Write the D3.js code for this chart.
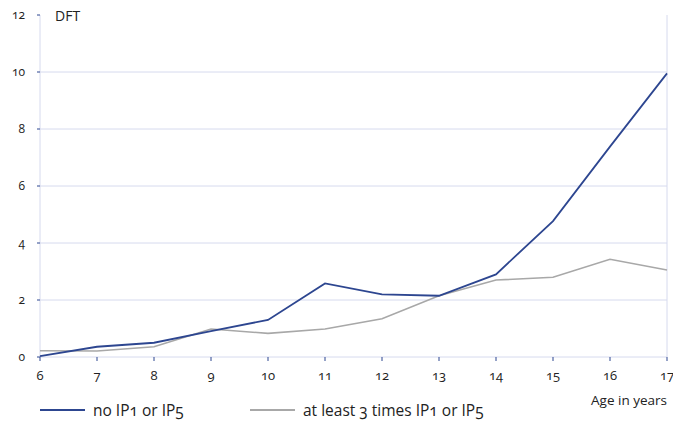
<!DOCTYPE html>
<html><head><meta charset="utf-8">
<script src="https://cdn.jsdelivr.net/npm/d3@7"></script>
<style>
body{margin:0;background:#fff;}
text{font-family:"Open Sans",Lato,sans-serif;fill:#222;font-variant-numeric:oldstyle-nums;}
</style></head><body>
<svg id="c" width="673" height="423"></svg>
<script>
const ages = [6,7,8,9,10,11,12,13,14,15,16,17];
const noIP = [0.03,0.36,0.5,0.91,1.3,2.58,2.2,2.15,2.9,4.77,7.38,9.95];
const atLeast3 = [0.22,0.21,0.36,0.98,0.83,0.98,1.34,2.15,2.7,2.8,3.43,3.05];
const yTicks = [0,2,4,6,8,10,12];
const seriesNames = ["no IP1 or IP5","at least 3 times IP1 or IP5"];
const colors = ["#2d4690","#a8a8a8"];

const svg = d3.select("#c");
const x = d3.scaleLinear().domain([6,17]).range([40,667]);
const y = d3.scaleLinear().domain([0,12]).range([357,15]);
const grid = "#d6daee";

svg.selectAll(".g").data(yTicks.filter(d=>d>0&&d<12)).enter().append("line")
  .attr("x1",40).attr("x2",667).attr("y1",d=>y(d)).attr("y2",d=>y(d))
  .attr("stroke",grid).attr("stroke-width",1);
svg.append("line").attr("x1",667).attr("x2",667).attr("y1",y(12)).attr("y2",y(0)).attr("stroke",grid);
svg.append("line").attr("x1",40).attr("x2",40).attr("y1",y(12)).attr("y2",y(0)).attr("stroke",grid);
svg.append("line").attr("x1",40).attr("x2",667).attr("y1",y(0)).attr("y2",y(0)).attr("stroke",grid);

svg.selectAll(".yt").data(yTicks).enter().append("line")
  .attr("x1",37).attr("x2",40).attr("y1",d=>y(d)).attr("y2",d=>y(d))
  .attr("stroke","#2d4690");
svg.selectAll(".yl").data(yTicks).enter().append("text")
  .attr("x",25).attr("y",d=>y(d)+4).attr("text-anchor","end")
  .attr("font-size",12).text(d=>d);
svg.selectAll(".xt").data(ages).enter().append("line")
  .attr("x1",d=>x(d)).attr("x2",d=>x(d)).attr("y1",357).attr("y2",361)
  .attr("stroke","#2d4690");
svg.selectAll(".xl").data(ages).enter().append("text")
  .attr("x",d=>x(d)).attr("y",380).attr("text-anchor","middle")
  .attr("font-size",13).text(d=>d);

svg.append("text").attr("x",55).attr("y",21).attr("font-size",14).text("DFT");
svg.append("text").attr("x",667).attr("y",405).attr("text-anchor","end").attr("font-size",13.5).text("Age in years");

const line = d3.line().x((d,i)=>x(ages[i])).y(d=>y(d));
[atLeast3, noIP].forEach((s,k)=>{
  const ci = k===0?1:0;
  svg.append("path").datum(s).attr("d",line).attr("fill","none")
    .attr("stroke",colors[ci]).attr("stroke-width",ci===0?1.8:1.6);
});

const leg = [{x:40,t:seriesNames[0],c:colors[0]},{x:250,t:seriesNames[1],c:colors[1]}];
leg.forEach(l=>{
  svg.append("line").attr("x1",l.x).attr("x2",l.x+45).attr("y1",410).attr("y2",410)
    .attr("stroke",l.c).attr("stroke-width",1.8);
  svg.append("text").attr("x",l.x+53).attr("y",416).attr("font-size",15.5).text(l.t);
});
</script>
</body></html>
